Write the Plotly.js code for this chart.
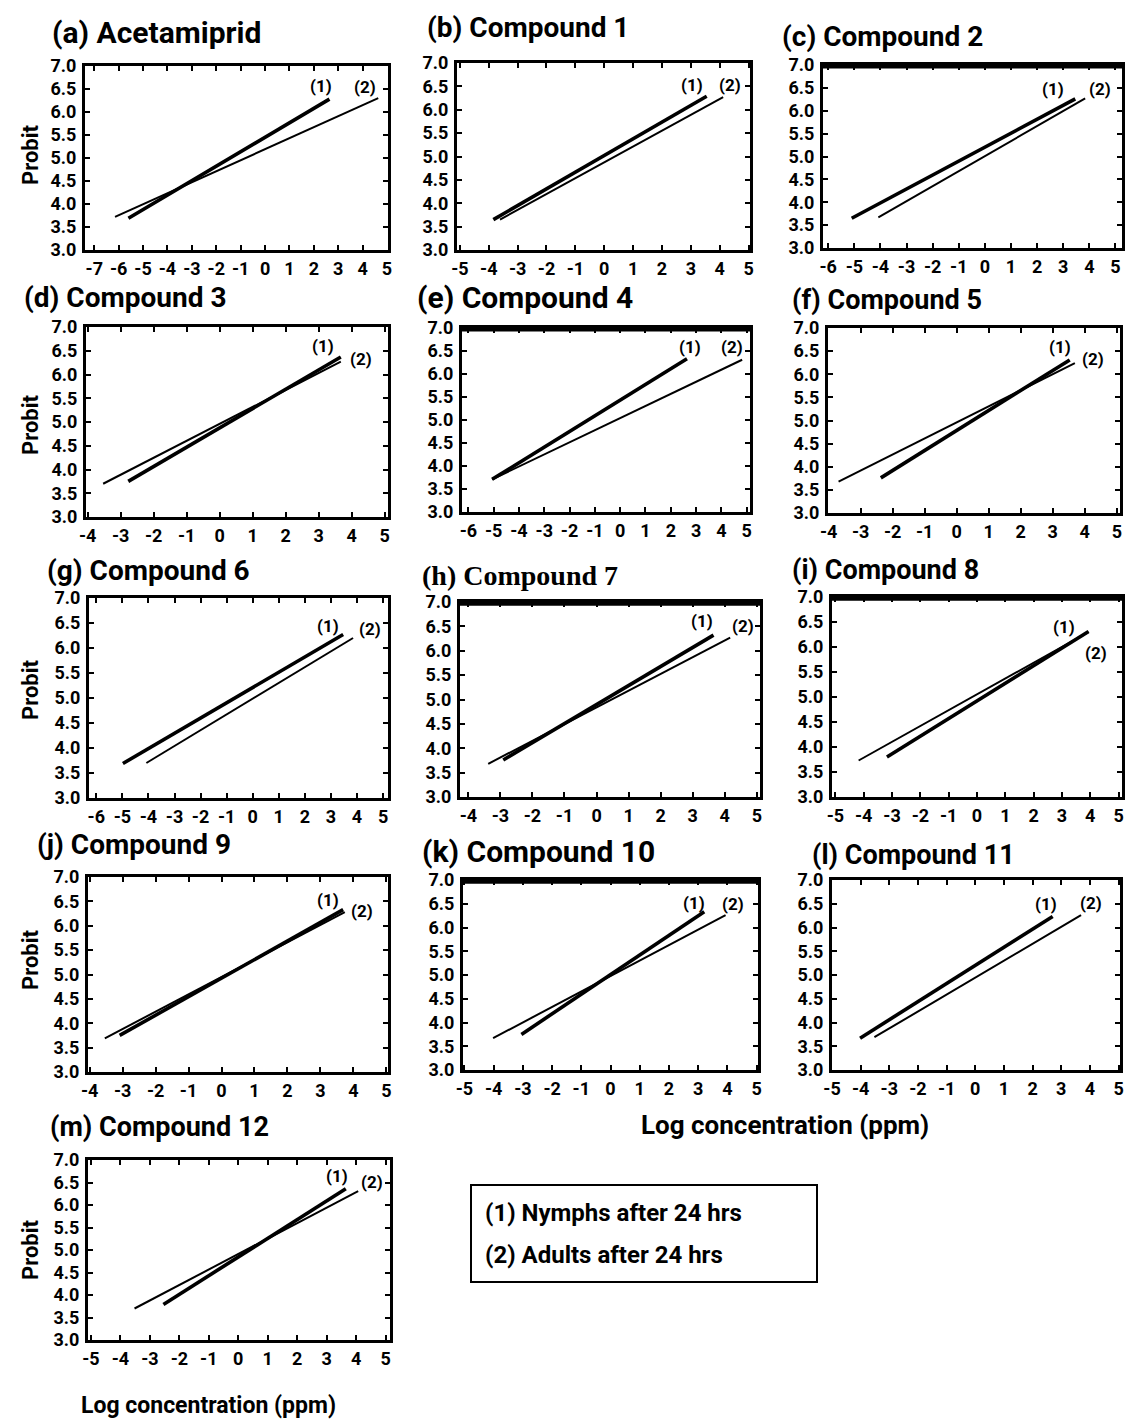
<!DOCTYPE html>
<html>
<head>
<meta charset="utf-8">
<script src="https://cdn.plot.ly/plotly-3.0.1.min.js"></script>
<style>html,body{margin:0;padding:0;background:#fff;}#chart{width:1131px;height:1421px;}</style>
</head>
<body>
<div id="chart"></div>
<script>
// ---------------- DATA ----------------
const panelTitles = ["(a) Acetamiprid","(b) Compound 1","(c) Compound 2","(d) Compound 3","(e) Compound 4","(f) Compound 5","(g) Compound 6","(h) Compound 7","(i) Compound 8","(j) Compound 9","(k) Compound 10","(l) Compound 11","(m) Compound 12"];
// (1) Nymphs after 24 hrs : probit regression line end points
const nymphX0 = [-5.60,-3.84,-5.10,-2.77,-5.06,-2.37,-4.98,-2.91,-3.18,-3.09,-3.05,-4.02,-2.54];
const nymphY0 = [ 3.69, 3.65, 3.65, 3.75, 3.71, 3.76, 3.69, 3.76, 3.80, 3.75, 3.75, 3.67, 3.79];
const nymphX1 = [ 2.64, 3.55, 3.46, 3.67, 2.64, 3.53, 3.47, 3.65, 3.94, 3.69, 3.21, 2.70, 3.65];
const nymphY1 = [ 6.28, 6.29, 6.26, 6.37, 6.33, 6.31, 6.27, 6.32, 6.31, 6.33, 6.33, 6.23, 6.36];
// (2) Adults after 24 hrs
const adultX0 = [-6.15,-3.61,-4.08,-3.53,-5.06,-3.69,-4.08,-3.38,-4.18,-3.54,-4.02,-3.52,-3.52];
const adultY0 = [ 3.72, 3.65, 3.67, 3.70, 3.71, 3.68, 3.70, 3.68, 3.73, 3.69, 3.67, 3.69, 3.70];
const adultX1 = [ 4.64, 4.12, 3.84, 3.67, 4.82, 3.69, 3.85, 4.17, 3.94, 3.74, 3.94, 3.69, 4.07];
const adultY1 = [ 6.30, 6.27, 6.27, 6.27, 6.31, 6.24, 6.20, 6.27, 6.30, 6.28, 6.26, 6.26, 6.31];
const yTickVals = [3.0,3.5,4.0,4.5,5.0,5.5,6.0,6.5,7.0];
const yTickText = ["3.0","3.5","4.0","4.5","5.0","5.5","6.0","6.5","7.0"];
const seriesLabels = ["(1)","(2)"];
const legendLines = ["(1) Nymphs after 24 hrs","(2) Adults after 24 hrs"];
const yAxisTitle = "Probit";
const xAxisTitle = "Log concentration (ppm)";

// ---------------- LAYOUT CONFIG ----------------
const W = 1131, H = 1421;
// plot boxes in pixels [left, right, top, bottom]
const boxes = [
  [85,388,66,250],[457,750,63,250],[823,1122,65,248],
  [86,388,327,517],[462,750,328,512],[828,1120,328,513],
  [89,388,598,798],[460,760,602,797],[832,1122,597,797],
  [88,388,877,1072],[463,758,880,1070],[832,1120,880,1070],
  [88,390,1160,1340]
];
const xRanges = [[-7.38,5.04],[-5.1,5.05],[-6.2,5.25],[-4.05,5.1],[-6.25,5.13],[-4.02,5.1],[-6.28,5.19],[-4.26,5.1],[-5.12,5.12],[-4.05,5.05],[-5.05,5.05],[-5.0,5.05],[-5.1,5.15]];
const titlePos = [[50,33,30],[425,27,28],[780,37,28],[22,297,28],[415,298,30],[790,300,27],[45,570,28],[420,575,28],[790,570,27],[35,845,28],[420,852,30],[810,855,27],[48,1127,27]];
// label offsets (px) relative to line ends: [dx1,dy1,dx2,dy2]
const labelOff = [[-8,12,-13,10],[-15,10,7,11],[-22,9,15,8],[-18,10,20,2],[3,11,-10,12],[-10,12,18,3],[-15,8,17,8],[-12,13,13,11],[-25,4,7,-22],[-15,9,17,0],[-10,8,7,10],[-7,12,10,11],[-9,12,14,8]];
const heavyTop = [2,4,7,8,10];
const probitY = [155,425,690,960,1250];

const FONT = "Roboto, 'Open Sans', Arial, sans-serif";
const px = v => v / W;
const py = v => 1 - v / H;

const traces = [];
const layout = {
  width: W, height: H,
  margin: {l:0,r:0,t:0,b:0},
  paper_bgcolor: "#ffffff",
  plot_bgcolor: "#ffffff",
  showlegend: false,
  font: {family: FONT, color: "#000", size: 17, weight: 700},
  annotations: [],
  shapes: []
};

for (let i = 0; i < panelTitles.length; i++) {
  const n = i + 1;
  const xa = n === 1 ? "x" : "x" + n;
  const ya = n === 1 ? "y" : "y" + n;
  const [L,R,T,B] = boxes[i];
  traces.push({x:[adultX0[i],adultX1[i]], y:[adultY0[i],adultY1[i]], xaxis:xa, yaxis:ya, mode:"lines", line:{color:"#000", width:2}, hoverinfo:"skip"});
  traces.push({x:[nymphX0[i],nymphX1[i]], y:[nymphY0[i],nymphY1[i]], xaxis:xa, yaxis:ya, mode:"lines", line:{color:"#000", width:3.6}, hoverinfo:"skip"});

  const xr = xRanges[i];
  const xt = [], xtt = [];
  for (let v = Math.ceil(xr[0]-0.06); v <= Math.floor(xr[1]+0.06); v++) { xt.push(v); xtt.push(String(v)); }
  const common = {showline:true, linewidth:3, linecolor:"#000", mirror:"ticks", ticks:"inside", ticklen:5, tickwidth:2, tickcolor:"#000", showgrid:false, zeroline:false, fixedrange:true, tickfont:{family:FONT, size:18, color:"#000", weight:700}};
  layout["xaxis" + (n===1?"":n)] = Object.assign({}, common, {domain:[px(L),px(R)], range:xr, anchor:ya, tickmode:"array", tickvals:xt, ticktext:xtt, ticklabelstandoff:0});
  layout["yaxis" + (n===1?"":n)] = Object.assign({}, common, {domain:[py(B),py(T)], range:[3,7], anchor:xa, tickmode:"array", tickvals:yTickVals, ticktext:yTickText, ticklabelstandoff:2});

  if (heavyTop.includes(i)) {
    layout.shapes.push({type:"line", xref:xa+" domain", yref:ya+" domain", x0:0, x1:1, y0:0.994, y1:0.994, line:{color:"#000", width:5}});
  }

  const tp = titlePos[i];
  layout.annotations.push({text:panelTitles[i], xref:"paper", yref:"paper", x:px(tp[0]), y:py(tp[1]), xanchor:"left", yanchor:"middle", showarrow:false,
    font:{family: i===7 ? "'Liberation Serif', 'DejaVu Serif', serif" : FONT, size:tp[2], color:"#000", weight:700}});
  const o = labelOff[i];
  layout.annotations.push({text:seriesLabels[0], xref:xa, yref:ya, x:nymphX1[i], y:nymphY1[i], xshift:o[0], yshift:o[1]+1, showarrow:false, font:{family:FONT,size:17,color:"#000",weight:700}});
  layout.annotations.push({text:seriesLabels[1], xref:xa, yref:ya, x:adultX1[i], y:adultY1[i], xshift:o[2], yshift:o[3]+1, showarrow:false, font:{family:FONT,size:17,color:"#000",weight:700}});
}

probitY.forEach(y => layout.annotations.push({text:yAxisTitle, xref:"paper", yref:"paper", x:px(30), y:py(y), textangle:-90, showarrow:false, xanchor:"center", yanchor:"middle", font:{family:FONT,size:22,color:"#000",weight:700}}));
layout.annotations.push({text:xAxisTitle, xref:"paper", yref:"paper", x:px(785), y:py(1125), showarrow:false, xanchor:"center", yanchor:"middle", font:{family:FONT,size:26,color:"#000",weight:700}});
layout.annotations.push({text:xAxisTitle, xref:"paper", yref:"paper", x:px(208), y:py(1405), showarrow:false, xanchor:"center", yanchor:"middle", font:{family:FONT,size:23,color:"#000",weight:700}});
layout.shapes.push({type:"rect", xref:"paper", yref:"paper", x0:px(471), x1:px(817), y0:py(1282), y1:py(1185), line:{color:"#000", width:2}, fillcolor:"rgba(0,0,0,0)"});
layout.annotations.push({text:legendLines[0], xref:"paper", yref:"paper", x:px(483), y:py(1213), xanchor:"left", yanchor:"middle", showarrow:false, font:{family:FONT,size:24,color:"#000",weight:700}});
layout.annotations.push({text:legendLines[1], xref:"paper", yref:"paper", x:px(483), y:py(1255), xanchor:"left", yanchor:"middle", showarrow:false, font:{family:FONT,size:24,color:"#000",weight:700}});

Plotly.newPlot("chart", traces, layout, {displayModeBar:false, staticPlot:true});
</script>
</body>
</html>
